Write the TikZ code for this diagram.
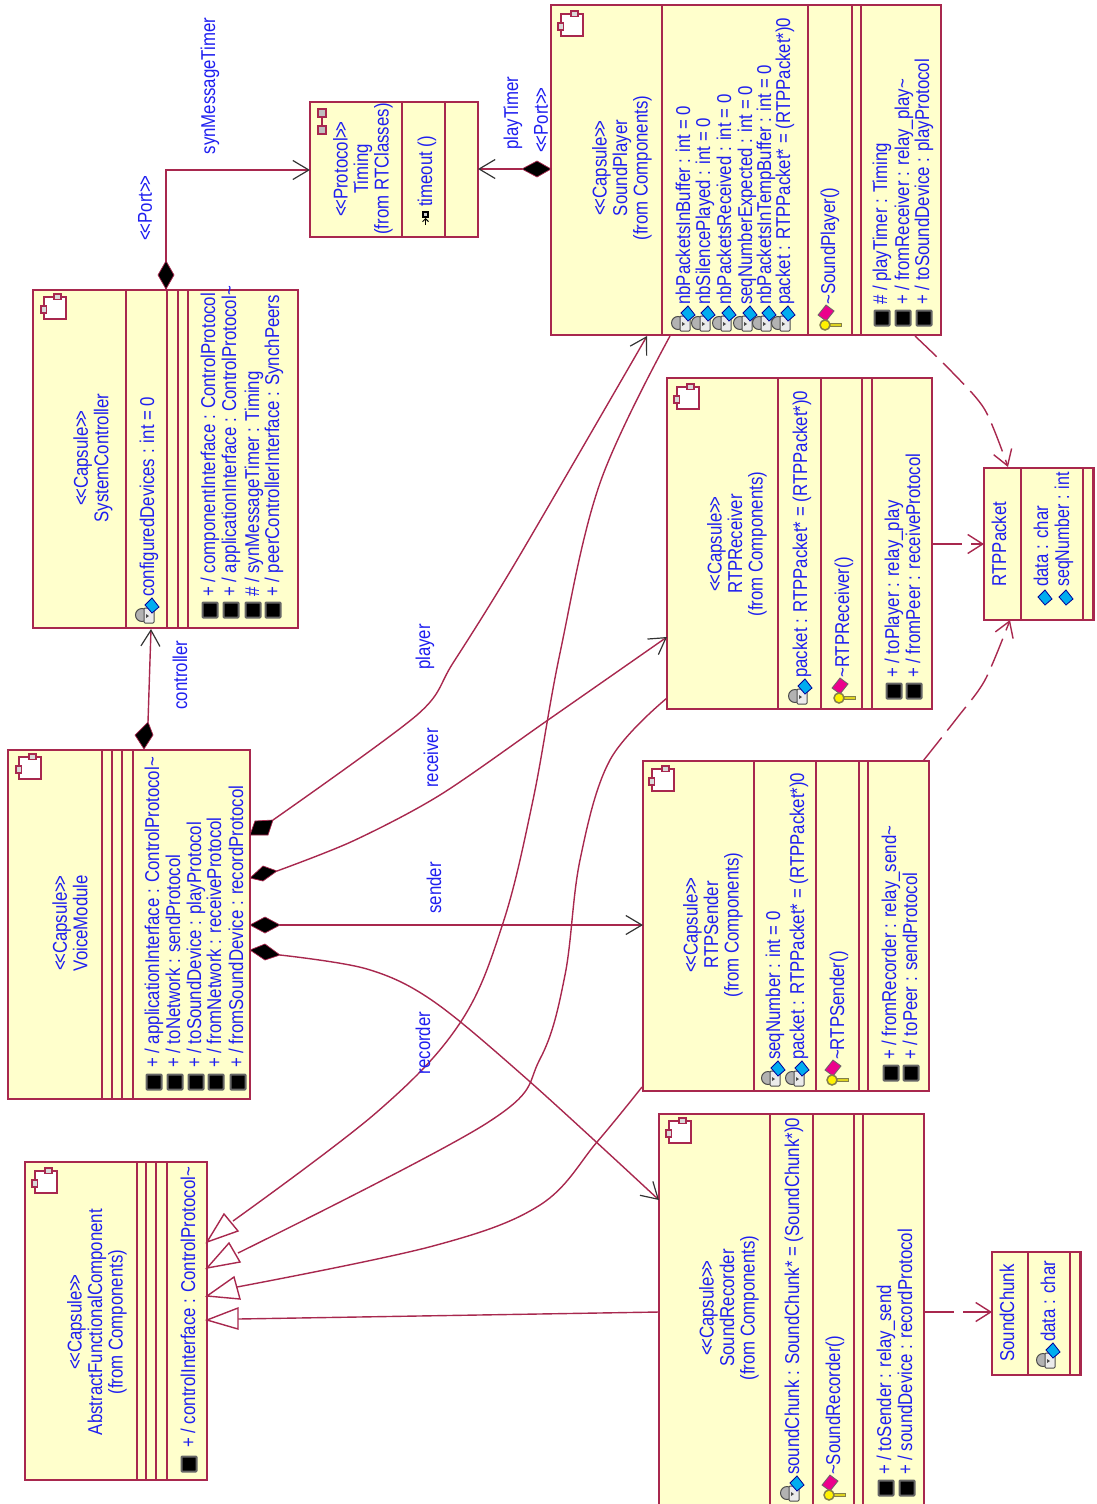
\documentclass[tikz,border=0pt]{standalone}
\usepackage{fontspec}
\usetikzlibrary{arrows.meta}
\newfontfamily\umlfont[FakeStretch=0.84]{Liberation Sans}
\newfontfamily\umlnarrow[FakeStretch=0.8]{Liberation Sans}
\definecolor{umlline}{RGB}{168,40,78}
\definecolor{umlfill}{RGB}{255,255,204}
\definecolor{umltext}{RGB}{30,30,240}
\newcounter{tn}
\newcommand{\stereo}[1]{<\kern-3pt<#1>\kern-3pt>}
\tikzset{
 x=1pt,y=-1pt,
 boxline/.style={draw=umlline,line width=1.5pt},
 boxshape/.style={draw=umlline,line width=1.5pt,fill=umlfill,rectangle,inner sep=0pt,outer sep=0pt},
 conn/.style={draw=umlline,line width=1.4pt},
 umllabel/.style={text=umltext,font=\umlfont\fontsize{20}{20.5}\selectfont,inner sep=0pt,rotate=90},
 leftlabel/.style={umllabel,anchor=base west},
 blocklabel/.style={umllabel,anchor=center,align=center},
 openhead/.style={-{Straight Barb[length=16pt,width=19pt,line width=1.2pt,color=black!80]}},
 dashhead/.style={-{Straight Barb[length=15pt,width=19pt,line width=1.4pt,color=umlline]},dash pattern=on 30pt off 9pt},
 genhead/.style={draw=umlline,line width=1.4pt,fill=white,line join=miter},
 filldiamond/.style={draw=umlline,line width=.7pt,fill=black},
 cube/.pic={
   \draw[draw=umlline,line width=1.5pt,fill=white] (-11,-11) rectangle (11,11);
   \draw[draw=umlline,line width=1.1pt,fill=black!15] (-1,-14) rectangle (6,-8.5);
   \draw[draw=umlline,line width=1.1pt,fill=black!15] (-14,-2) rectangle (-8.5,5);
 },
 attrpub/.pic={\draw[draw=blue!60!black,line width=.8pt,fill=cyan] (-7,0) -- (0,-7) -- (7,2) -- (0,8) -- cycle;},
 attrpriv/.pic={
   \draw[draw=black!70,line width=1pt,fill=black!30] (-5,10) circle (6.5);
   \draw[draw=black!70,line width=1pt,fill=black!8,rounded corners=1pt] (-3,3) rectangle (7,18);
   \fill[black!70] (-1,9) -- (2,11) -- (-1,13) -- cycle;
   \draw[draw=blue!60!black,line width=.8pt,fill=cyan] (-2,0) -- (5,-7) -- (12,2) -- (5,8) -- cycle;
 },
 keyop/.pic={
   \draw[draw=black!60,line width=.8pt,fill=magenta] (-8,1) -- (0,-9) -- (8,-3) -- (0,7) -- cycle;
   \fill[yellow!85!black,draw=yellow!45!black,line width=.7pt] (2,9) rectangle (15,12.5);
   \draw[draw=yellow!45!black,line width=1.5pt,fill=yellow] (-1,11) circle (5);
 },
 portsq/.pic={
   \draw[draw=black!60,line width=2pt,fill=black,rounded corners=.8pt] (-7.5,-7.5) rectangle (7.5,7.5);
 },
}
\newcommand{\umlbox}[6]{%
  \pgfmathsetmacro{\bxw}{#4-#2}\pgfmathsetmacro{\bxh}{#5-#3}%
  \pgfmathsetmacro{\bcx}{(#2+#4)/2}\pgfmathsetmacro{\bcy}{(#3+#5)/2}%
  \node[boxshape,minimum width=\bxw pt,minimum height=\bxh pt] (#1) at (\bcx,\bcy) {};
  \foreach \d in {#6} {\draw[boxline] (\d,#3) -- (\d,#5);}
}
\newcommand{\lbl}[3]{\stepcounter{tn}\node[leftlabel] (t\thetn) at (#1+7,#2) {#3};}
\newcommand{\blk}[3]{\stepcounter{tn}\node[blocklabel] (t\thetn) at (#1,#2) {#3};}
\newcommand{\icn}[3]{\pic at (#1,#2) {#3};}
\begin{document}
\begin{tikzpicture}
\useasboundingbox (0,0) rectangle (1097,1504);
% boxes
\umlbox{sp}{551}{5}{941}{335}{662,808,852,861}
\umlbox{sc}{33}{290}{298}{628}{126,167,178,188}
\umlbox{vm}{8}{750}{250}{1099}{102,112,122,133}
\umlbox{rr}{667}{378}{932}{709}{778,821,862,872}
\umlbox{rs}{643}{761}{929}{1091}{754,816,859,868}
\umlbox{sr}{659}{1114}{924}{1508}{770,813,854,863}
\umlbox{afc}{25}{1162}{207}{1480}{137,146,156,167}
\umlbox{tm}{310}{102}{478}{237}{402,445}
\umlbox{pk}{984}{468}{1094}{620}{1021,1083}
\umlbox{sk}{992}{1252}{1081}{1375}{1028,1070}
\draw[draw=umlline,line width=3pt] (1093,468) -- (1093,620);
\draw[draw=umlline,line width=3pt] (1080,1252) -- (1080,1375);
% connectors: end points
\coordinate (scTop) at (166,290);
\coordinate (scBend) at (166,170);
\coordinate (tmL) at (310,170);
\coordinate (tmR) at (478,169);
\coordinate (spDia) at (522,169);
\coordinate (vmCtl) at (148,722);
\coordinate (scBot) at (151,629);
\coordinate (plA) at (273,820);
\coordinate (plB) at (647,336);
\coordinate (reA) at (277,871);
\coordinate (reB) at (667,637);
\coordinate (seA) at (280,925);
\coordinate (seB) at (643,925);
\coordinate (rcA) at (280,955);
\coordinate (rcB) at (659,1200);
\coordinate (g1A) at (670,336);
\coordinate (g1B) at (233,1221);
\coordinate (g2A) at (667,698);
\coordinate (g2B) at (238,1253);
\coordinate (g3A) at (642,1087);
\coordinate (g3B) at (237,1287);
\coordinate (g4A) at (659,1312);
\coordinate (g4B) at (238,1319);
\coordinate (d1A) at (915,336);
\coordinate (d1B) at (1008,467);
\coordinate (d2A) at (923,761);
\coordinate (d2B) at (1010,620);
\coordinate (d3A) at (932,544);
\coordinate (d3B) at (984,544);
\coordinate (d4A) at (924,1312);
\coordinate (d4B) at (992,1312);
% associations
\draw[conn,openhead] (scTop) -- (scBend) -- (tmL);
\draw[conn,openhead] (spDia) -- (tmR);
\draw[conn,openhead] (vmCtl) -- (scBot);
\draw[conn,openhead] plot[smooth,tension=.5] coordinates {(plA) (417,715) (453,663) (517,560) (plB)};
\draw[conn,openhead] plot[smooth,tension=.5] coordinates {(reA) (353,841) (440,795) (548,720) (reB)};
\draw[conn,openhead] (seA) -- (seB);
\draw[conn,openhead] plot[smooth,tension=.55] coordinates {(rcA) (367,969) (433,1001) (528,1080) (rcB)};
% generalisations
\draw[conn] plot[smooth,tension=.6] coordinates {(g1A) (600,483) (560,653) (533,800) (503,923) (460,1023) (377,1112) (g1B)};
\draw[conn] plot[smooth,tension=.6] coordinates {(g2A) (610,760) (580,860) (565,975) (540,1059) (487,1123) (g2B)};
\draw[conn] plot[smooth,tension=.6] coordinates {(g3A) (597,1142) (540,1205) (433,1246) (g3B)};
\draw[conn] (g4A) -- (g4B);
\draw[genhead] (207,1242) -- (224,1214) -- (238,1231) -- cycle;
\draw[genhead] (207,1268) -- (229,1243) -- (240,1262) -- cycle;
\draw[genhead] (207,1296) -- (234,1277) -- (240,1299) -- cycle;
\draw[genhead] (207,1320) -- (238,1308) -- (238,1329) -- cycle;
% dashed dependencies
\draw[conn,dashhead] plot[smooth,tension=.5] coordinates {(d1A) (952,372) (985,410) (d1B)};
\draw[conn,dashhead] plot[smooth,tension=.5] coordinates {(d2A) (957,718) (985,680) (d2B)};
\draw[conn,dashhead] (d3A) -- (d3B);
\draw[conn,dashhead] (d4A) -- (d4B);
% diamonds
\draw[filldiamond] (166,261) -- (174,275) -- (166,289) -- (158,275) -- cycle;
\draw[filldiamond] (148,722) -- (153,735) -- (144,749) -- (135,735) -- cycle;
\draw[filldiamond] (551,169) -- (537,161) -- (522,169) -- (537,177) -- cycle;
\draw[filldiamond] (250,835) -- (255,821) -- (273,820) -- (268,835) -- cycle;
\draw[filldiamond] (250,878) -- (263,866) -- (277,871) -- (263,881) -- cycle;
\draw[filldiamond] (250,925) -- (265,917) -- (280,925) -- (265,933) -- cycle;
\draw[filldiamond] (250,950) -- (265,944) -- (280,955) -- (265,960) -- cycle;
% labels on connectors
\blk{145}{208}{\stereo{Port}}
\blk{210}{86}{synMessageTimer}
\blk{513}{113}{playTimer}
\blk{541}{120}{\stereo{Port}}
\blk{180}{675}{controller}
\blk{425}{647}{player}
\blk{431}{758}{receiver}
\blk{434}{888}{sender}
\blk{423}{1043}{recorder}
% SoundPlayer
\icn{572}{25}{cube}
\blk{622}{168}{\stereo{Capsule}\\SoundPlayer\\(from Components)}
\lbl{683}{305}{nbPacketsInBuffer : int = 0}
\lbl{703}{305}{nbSilencePlayed : int = 0}
\lbl{724}{305}{nbPacketsReceived : int = 0}
\lbl{745}{305}{seqNumberExpected : int = 0}
\lbl{764}{305}{nbPacketsInTempBuffer : int = 0}
\lbl{783}{305}{packet : RTPPacket* = (RTPPacket*)0}
\foreach \x in {683,703,724,745,764,783} {\icn{\x}{313}{attrpriv}}
\icn{826}{314}{keyop}
\lbl{828}{305}{\textasciitilde SoundPlayer()}
\lbl{880}{305}{\# / playTimer : Timing}
\lbl{902}{305}{+ / fromReceiver : relay\_play\textasciitilde}
\lbl{922}{305}{+ / toSoundDevice : playProtocol}
\foreach \x in {882,903,924} {\icn{\x}{318}{portsq}}
% SystemController
\icn{55}{308}{cube}
\blk{93}{458}{\stereo{Capsule}\\SystemController}
\lbl{147}{597}{configuredDevices : int = 0}
\icn{147}{605}{attrpriv}
\lbl{208}{597}{+ / componentInterface : ControlProtocol}
\lbl{229}{597}{+ / applicationInterface : ControlProtocol\textasciitilde}
\lbl{252}{597}{\# / synMessageTimer : Timing}
\lbl{272}{597}{+ / peerControllerInterface : SynchPeers}
\foreach \x in {210,231,253,273} {\icn{\x}{610}{portsq}}
% VoiceModule
\icn{30}{768}{cube}
\blk{70}{923}{\stereo{Capsule}\\VoiceModule}
\lbl{152}{1068}{+ / applicationInterface : ControlProtocol\textasciitilde}
\lbl{173}{1068}{+ / toNetwork : sendProtocol}
\lbl{194}{1068}{+ / toSoundDevice : playProtocol}
\lbl{214}{1068}{+ / fromNetwork : receiveProtocol}
\lbl{236}{1068}{+ / fromSoundDevice : recordProtocol}
\foreach \x in {154,175,196,216,238} {\icn{\x}{1082}{portsq}}
% RTPReceiver
\icn{688}{398}{cube}
\blk{737}{544}{\stereo{Capsule}\\RTPReceiver\\(from Components)}
\lbl{800}{678}{packet : RTPPacket* = (RTPPacket*)0}
\icn{800}{686}{attrpriv}
\icn{840}{687}{keyop}
\lbl{842}{678}{\textasciitilde RTPReceiver()}
\lbl{892}{678}{+ / toPlayer : relay\_play}
\lbl{913}{678}{+ / fromPeer : receiveProtocol}
\foreach \x in {894,914} {\icn{\x}{691}{portsq}}
% RTPPacket
\blk{999}{544}{RTPPacket}
\lbl{1041}{587}{data : char}
\lbl{1062}{587}{\umlnarrow\fontsize{20}{20.5}\selectfont seqNumber : int}
\icn{1045}{597}{attrpub}
\icn{1066}{597}{attrpub}
% RTPSender
\icn{663}{780}{cube}
\blk{713}{925}{\stereo{Capsule}\\RTPSender\\(from Components)}
\lbl{773}{1060}{seqNumber : int = 0}
\lbl{797}{1060}{packet : RTPPacket* = (RTPPacket*)0}
\icn{773}{1068}{attrpriv}
\icn{797}{1068}{attrpriv}
\icn{833}{1069}{keyop}
\lbl{837}{1060}{\textasciitilde RTPSender()}
\lbl{889}{1060}{+ / fromRecorder : relay\_send\textasciitilde}
\lbl{910}{1060}{+ / toPeer : sendProtocol}
\foreach \x in {891,911} {\icn{\x}{1073}{portsq}}
% SoundRecorder
\icn{680}{1132}{cube}
\blk{729}{1308}{\stereo{Capsule}\\SoundRecorder\\(from Components)}
\lbl{792}{1475}{soundChunk : SoundChunk* = (SoundChunk*)0}
\icn{792}{1483}{attrpriv}
\icn{830}{1484}{keyop}
\lbl{833}{1475}{\textasciitilde SoundRecorder()}
\lbl{884}{1475}{+ / toSender : relay\_send}
\lbl{905}{1475}{+ / soundDevice : recordProtocol}
\foreach \x in {886,907} {\icn{\x}{1488}{portsq}}
% SoundChunk
\blk{1007}{1313}{SoundChunk}
\lbl{1048}{1342}{data : char}
\icn{1048}{1350}{attrpriv}
% AbstractFunctionalComponent
\icn{46}{1182}{cube}
\blk{97}{1322}{\stereo{Capsule}\\AbstractFunctionalComponent\\(from Components)}
\lbl{188}{1448}{+ / controlInterface : ControlProtocol\textasciitilde}
\icn{189}{1464}{portsq}
% Timing
\draw[draw=umlline,line width=1.5pt,fill=black!25] (318,109) rectangle (326,117);
\draw[draw=umlline,line width=1.5pt,fill=black!25] (318,126) rectangle (326,134);
\draw[draw=umlline,line width=1.5pt] (322,117) -- (322,126);
\blk{363}{169}{\stereo{Protocol}\\Timing\\(from RTClasses)}
\lbl{425}{207}{timeout ()}
\draw[draw=black,line width=1.2pt,fill=black!20] (423,212) rectangle (428,217);
\draw[draw=black,line width=1pt,-{Straight Barb[length=3pt,width=6pt]}] (425.5,225) -- (425.5,218);
\end{tikzpicture}
\end{document}
